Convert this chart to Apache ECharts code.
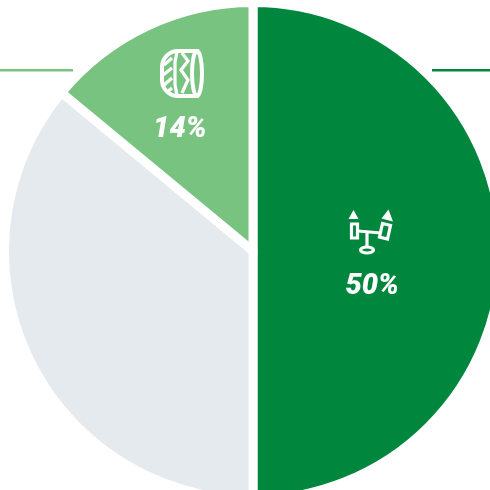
<!DOCTYPE html>
<html>
<head>
<meta charset="utf-8">
<style>html,body{margin:0;padding:0;background:#fff}#c{width:490px;height:490px}</style>
<script src="https://cdn.jsdelivr.net/npm/echarts@6/dist/echarts.min.js"></script>
</head>
<body>
<div id="c"></div>
<script>
const categories = ['Suspension', 'Other', 'Tyres'];
const values = [50, 36, 14];
const labels = ['50%', '', '14%'];

const DARK = '#00873d', LIGHT = '#79c381', GREY = '#e5eaef';
const sliceColors = [DARK, GREY, LIGHT];
const labelShift = [[-8, 36], [0, 0], [-19, -6.5]];
const iconStroke = { stroke: '#fff', fill: 'none', lineWidth: 4 };
const thin = { stroke: '#fff', fill: 'none', lineWidth: 3.2 };
const solid = { fill: '#fff' };

const chart = echarts.init(document.getElementById('c'), null, { renderer: 'canvas' });
const el = (type, shape, style, extra) => Object.assign({ type, shape, style, z: 10 }, extra || {});
const pl = (points, style) => el('polyline', { points }, style || thin);

chart.setOption({
  animation: false,
  series: [{
    type: 'pie',
    center: [253, 251],
    radius: [0, 248.5],
    startAngle: 90,
    clockwise: true,
    silent: true,
    labelLine: { show: false },
    label: {
      show: true, position: 'inside', color: '#fff',
      fontFamily: 'Roboto', fontStyle: 'italic', fontWeight: 900, fontSize: 29,
      formatter: p => labels[p.dataIndex]
    },
    labelLayout: p => ({ dx: labelShift[p.dataIndex][0], dy: labelShift[p.dataIndex][1] }),
    itemStyle: { borderColor: '#fff', borderWidth: 9 },
    data: categories.map((name, i) => ({
      name, value: values[i], itemStyle: { color: sliceColors[i] }
    }))
  }],
  graphic: [
    // leader lines
    el('line', { x1: 0, y1: 70.3, x2: 73, y2: 70.3 }, { stroke: LIGHT, lineWidth: 2.6 }),
    el('line', { x1: 432, y1: 70.3, x2: 490, y2: 70.3 }, { stroke: DARK, lineWidth: 2.6 }),
    // tyre icon
    el('rect', { x: 162, y: 51, width: 35, height: 45, r: [16, 0, 0, 16] }, iconStroke),
    el('ellipse', { cx: 197, cy: 73.5, rx: 5, ry: 22.5 }, Object.assign({}, iconStroke, { fill: LIGHT })),
    pl([[177, 52], [175, 62], [175, 85], [177, 95]]),
    pl([[182, 53], [188, 61], [181, 70], [188, 80], [182, 93]]),
    pl([[164, 65], [172, 58]]),
    pl([[163, 75], [172, 68]]),
    pl([[164, 85], [172, 78]]),
    pl([[167, 92], [172, 88]]),
    // seesaw icon
    el('rect', { x: 351.5, y: 224, width: 6, height: 14 }, thin),
    el('polygon', { points: [[353.5, 210], [348.5, 219], [358.5, 219]] }, solid),
    el('polygon', { points: [[382.5, 223.5], [390.5, 225.5], [387.5, 239], [379.5, 237]] }, thin),
    el('polygon', { points: [[388.5, 209.5], [381.5, 218.5], [393, 221.5]] }, solid),
    el('line', { x1: 358, y1: 231, x2: 381, y2: 233 }, thin),
    el('line', { x1: 367, y1: 232, x2: 367, y2: 246 }, thin),
    el('ellipse', { cx: 367, cy: 250, rx: 6.5, ry: 3 }, thin)
  ]
});
</script>
</body>
</html>
